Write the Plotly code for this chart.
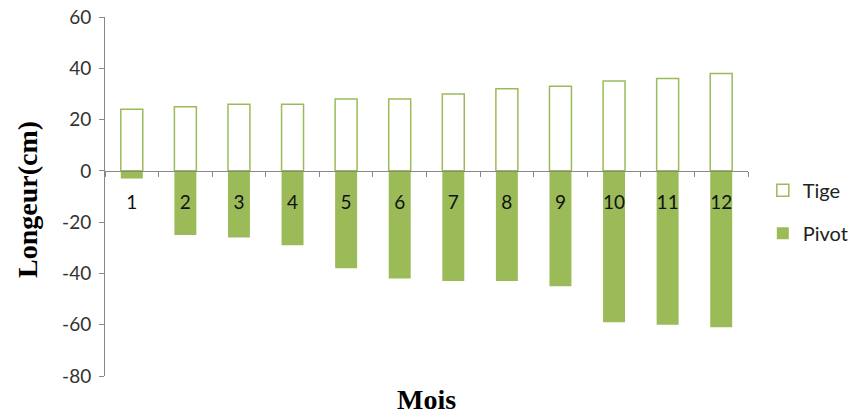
import plotly.graph_objects as go

# Monthly stem (Tige) and taproot (Pivot) lengths, in cm
mois = ["1", "2", "3", "4", "5", "6", "7", "8", "9", "10", "11", "12"]
tige = [24, 25, 26, 26, 28, 28, 30, 32, 33, 35, 36, 38]
pivot = [-3, -25, -26, -29, -38, -42, -43, -43, -45, -59, -60, -61]
y_ticks = [60, 40, 20, 0, -20, -40, -60, -80]
y_tick_text = ["60", "40", "20", "0", "-20", "-40", "-60", "-80"]

green = "#9BBB59"
axis_grey = "#888888"
y_min, y_max = -80, 60
serif = "'Liberation Serif', 'Times New Roman', serif"
sans = "Lato, 'Open Sans', sans-serif"

fig = go.Figure()
fig.add_trace(go.Bar(
    x=mois, y=tige, name="Tige", legendgroup="tige",
    marker=dict(color="white", line=dict(color=green, width=1.5)),
))
fig.add_trace(go.Bar(
    x=mois, y=pivot, name="Pivot", legendgroup="pivot",
    marker=dict(color=green, line=dict(color=green, width=0)),
))

fig.update_layout(
    width=860, height=415,
    margin=dict(l=105, r=112, t=17, b=39, autoexpand=False),
    paper_bgcolor="white", plot_bgcolor="white",
    barmode="relative", bargap=0.59,
    font=dict(family=sans, size=19, color="#222222"),
    showlegend=True,
    legend=dict(
        xref="container", yref="container",
        x=0.887, y=0.49, xanchor="left", yanchor="middle",
        font=dict(family=sans, size=20, color="#222222"),
        tracegroupgap=14, itemwidth=30,
    ),
    xaxis=dict(
        type="category", automargin=False,
        anchor="free",
        position=(0 - y_min) / (y_max - y_min),
        showline=True, linecolor=axis_grey, linewidth=1,
        ticks="outside", tickson="boundaries", ticklen=5, tickcolor=axis_grey,
        tickfont=dict(family=sans, size=19, color="#111111"),
        ticklabelstandoff=14,
        showgrid=False, zeroline=False,
    ),
    yaxis=dict(
        range=[y_min, y_max], automargin=False,
        tickmode="array", tickvals=y_ticks, ticktext=y_tick_text,
        showline=True, linecolor=axis_grey, linewidth=1,
        ticks="outside", ticklen=5, tickcolor=axis_grey,
        tickfont=dict(family=sans, size=19, color="#333333"),
        ticklabelstandoff=4,
        showgrid=False, zeroline=False,
    ),
    annotations=[
        dict(
            text="<b>Mois</b>", xref="paper", yref="paper",
            x=0.5, y=-(399 - 376) / 359, xanchor="center", yanchor="middle",
            showarrow=False, font=dict(family=serif, size=28, color="#000000"),
        ),
        dict(
            text="<b>Longeur(cm)</b>", xref="paper", yref="paper",
            x=-(105 - 27) / 643, y=(376 - 200) / 359,
            xanchor="center", yanchor="middle", textangle=-90,
            showarrow=False, font=dict(family=serif, size=28, color="#000000"),
        ),
    ],
)

fig.write_html("out.html")
